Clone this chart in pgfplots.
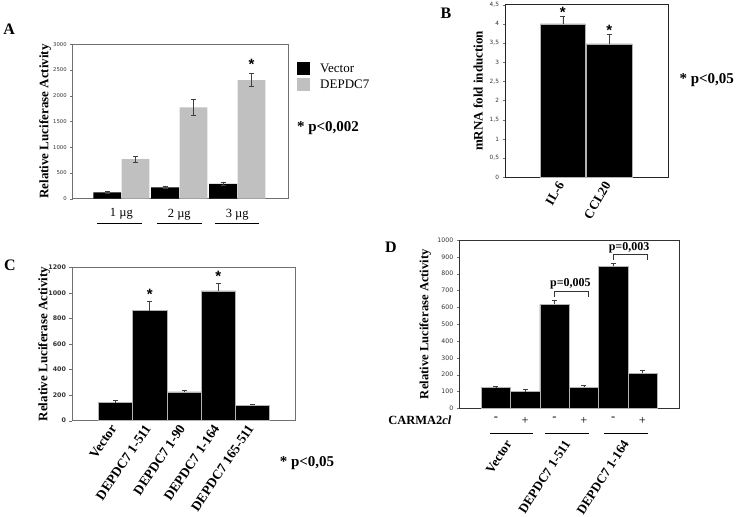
\documentclass[border=0pt]{standalone}
\usepackage{pgfplots}
\pgfplotsset{compat=1.18}
\usepackage{fontspec}
\setmainfont{Liberation Serif}
\setsansfont{Liberation Sans}
\newfontfamily\tickfont{DejaVu Sans}
\definecolor{frame}{RGB}{112,112,112}
\definecolor{lgray}{RGB}{192,192,192}
\newcommand\bsz[1]{\bfseries\fontsize{#1}{#1}\selectfont}
\tikzset{star/.style={font=\sffamily\bfseries\fontsize{15}{15}\selectfont}}
\begin{document}
\begin{tikzpicture}[x=1pt,y=1pt]
\path[use as bounding box] (0,0) rectangle (740,517);
\pgfplotsset{
  panel/.style={
    scale only axis, anchor=south west,
    axis line style={frame, line width=0.6pt}, tick style={frame},
    tick align=outside, ytick pos=left, major tick length=2.5pt,
    xtick style={draw=none},
    /pgf/number format/1000 sep={},
    /pgf/number format/assume math mode=true,
    ylabel style={font=\bsz{13}, anchor=center},
    ymin=0, clip=false,
  },
  blackbar/.style={fill=black, draw=gray!60, line width=0.6pt},
  errs/.style={error bars/.cd, y dir=#1, y explicit,
    error bar style={black!75, line width=0.6pt},
    error mark options={rotate=90, mark size=2.5pt, black!75, line width=0.6pt}},
  sqlegend/.style={legend image code/.code={\fill[##1] (0pt,-6.6pt) rectangle (13.3pt,6.6pt);}},
}

% ---------------- A
\begin{axis}[panel, at={(72.7pt,318.3pt)}, width=215.6pt, height=154.4pt,
  xmin=0.16, xmax=3.88, ymax=3000, ytick={0,500,...,3000},
  yticklabel style={font=\tickfont\fontsize{5.3}{6}\selectfont, black!80},
  xtick={1,2,3}, xticklabels={1 µg,2 µg,3 µg},
  xticklabel style={font=\fontsize{12.5}{14}\selectfont, yshift=-4pt},
  ylabel={Relative Luciferase Activity},
  ylabel style={at={(axis description cs:-0.128,0.5)}},
  ybar, bar width=0.48,
  legend style={at={(axis description cs:1.039,0.887)}, anchor=north west,
    draw=none, fill=none, font=\fontsize{13}{14}\selectfont,
    row sep=3pt, column sep=9pt, inner sep=0pt, nodes={inner sep=1pt, anchor=west}},
  legend cell align=left,
]
\addplot[fill=black, draw=none, bar shift=-0.245, sqlegend, errs=both]
  coordinates {(1,124) +- (0,15) (2,221) +- (0,20) (3,286) +- (0,25)};
\addplot[fill=lgray, draw=none, bar shift=0.245, sqlegend, errs=both]
  coordinates {(1,771) +- (0,58) (2,1776) +- (0,150) (3,2306) +- (0,122)};
\legend{Vector,DEPDC7}
\node[star] at (axis cs:3.245,2611) {*};
\end{axis}
\foreach \a/\b in {97/142,157/202,215/259} \draw[line width=0.7pt] (\a,294) -- (\b,294);
\node[font=\bsz{15}] at (328,388.7) {* p<0,002};
\node[font=\bsz{16}] at (9.2,488) {A};

% ---------------- B
\begin{axis}[panel, at={(505pt,339.7pt)}, width=163.3pt, height=172.6pt,
  axis line style={black!85},
  xmin=-0.246, xmax=3.274, ymax=4.5, ytick={0,0.5,...,4.5},
  /pgf/number format/use comma, /pgf/number format/fixed,
  yticklabel style={font=\tickfont\fontsize{5.8}{6}\selectfont, black!80},
  xtick={1,2}, xticklabels={IL-6,CCL20},
  xticklabel style={font=\bsz{13}, rotate=60, anchor=east},
  ylabel={mRNA fold induction},
  ylabel style={at={(axis description cs:-0.165,0.5)}},
  ybar, bar width=0.98, bar shift=0pt,
]
\addplot[blackbar, errs=plus] coordinates {(1,4.0) +- (0,0.19) (2,3.48) +- (0,0.25)};
\node[star] at (axis cs:1,4.30) {*};
\node[star] at (axis cs:2,3.84) {*};
\end{axis}
\node[font=\bsz{15}] at (706.7,437) {* p<0,05};
\node[font=\bsz{16}] at (446,504) {B};

% ---------------- C
\begin{axis}[panel, at={(72pt,96.3pt)}, width=223pt, height=153.4pt,
  xmin=-0.27, xmax=6.24, ymax=1200, ytick={0,200,...,1200},
  yticklabel style={font=\tickfont\bfseries\fontsize{6.3}{7}\selectfont, black!80},
  xtick={1,...,5},
  xticklabels={Vector,DEPDC7 1-511,DEPDC7 1-90,DEPDC7 1-164,DEPDC7 165-511},
  xticklabel style={font=\bsz{13.5}, rotate=56, anchor=east},
  ylabel={Relative Luciferase Activity},
  ylabel style={at={(axis description cs:-0.125,0.5)}},
  ybar, bar width=1, bar shift=0pt,
]
\addplot[blackbar, errs=plus] coordinates {(1,141) +- (0,15) (2,860) +- (0,71)
  (3,225) +- (0,15) (4,1015) +- (0,60) (5,120) +- (0,8)};
\node[star] at (axis cs:2,985) {*};
\node[star] at (axis cs:4,1128) {*};
\end{axis}
\node[font=\bsz{15}] at (307,54.3) {* p<0,05};
\node[font=\bsz{16}] at (10,252) {C};

% ---------------- D
\begin{axis}[panel, at={(459.3pt,108.7pt)}, width=220pt, height=168.3pt,
  axis line style={black!80},
  xmin=-0.25, xmax=7.256, ymax=1000, ytick={0,100,...,1000},
  yticklabel style={font=\tickfont\fontsize{6.2}{7}\selectfont, black!80},
  xtick={1,...,6}, xticklabels={-,+,-,+,-,+},
  xticklabel style={font=\fontsize{12.5}{14}\selectfont, yshift=-3pt},
  extra x ticks={1.5,3.5,5.5},
  extra x tick labels={Vector,DEPDC7 1-511,DEPDC7 1-164},
  extra x tick style={xticklabel style={font=\bsz{13}, yshift=-25pt, rotate=57, anchor=east}},
  ylabel={Relative Luciferase Activity},
  ylabel style={at={(axis description cs:-0.155,0.5)}, font=\bsz{12.6}},
  ybar, bar width=1, bar shift=0pt,
]
\addplot[blackbar, errs=plus] coordinates {(1,122) +- (0,10) (2,99) +- (0,12)
  (3,618) +- (0,25) (4,126) +- (0,12) (5,844) +- (0,17) (6,208) +- (0,20)};
\draw[black!80, line width=0.7pt] (axis cs:3,663) -- (axis cs:3,697) -- (axis cs:4.15,697) -- (axis cs:4.15,663);
\node[font=\bsz{12}] at (axis cs:3.54,739) {p=0,005};
\draw[black!80, line width=0.7pt] (axis cs:5,881) -- (axis cs:5,915) -- (axis cs:6.15,915) -- (axis cs:6.15,881);
\node[font=\bsz{12}] at (axis cs:5.54,951) {p=0,003};
\end{axis}
\node[anchor=east, font=\bsz{12.5}] at (455,97) {CARMA2\textit{cl}};
\foreach \a/\b in {490/532.7,545/589.3,604.3/648.3} \draw[line width=0.7pt] (\a,83.7) -- (\b,83.7);
\node[font=\bsz{16}] at (391,269.3) {D};
\end{tikzpicture}
\end{document}
